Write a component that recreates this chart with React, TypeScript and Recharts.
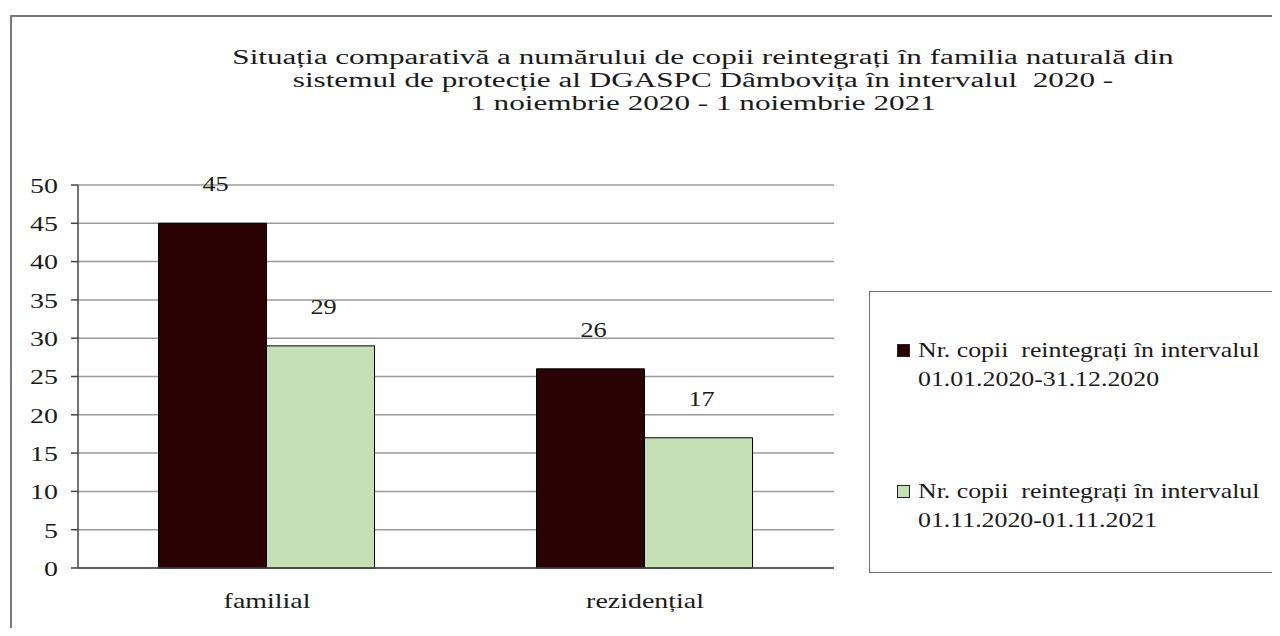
import React from 'react';
import { BarChart, Bar, XAxis, YAxis, CartesianGrid, LabelList } from 'recharts';

const categories = ['familial', 'rezidențial'];
const seriesA = [45, 26];
const seriesB = [29, 17];
const seriesNames = [
  'Nr. copii  reintegrați în intervalul\n01.01.2020-31.12.2020',
  'Nr. copii  reintegrați în intervalul\n01.11.2020-01.11.2021',
];
const seriesColors = ['#2a0204', '#c4e0b4'];
const yTicks = [0, 5, 10, 15, 20, 25, 30, 35, 40, 45, 50];
const titleLines = [
  'Situația comparativă a numărului de copii reintegrați în familia naturală din',
  'sistemul de protecție al DGASPC Dâmbovița în intervalul  2020 -',
  '1 noiembrie 2020 - 1 noiembrie 2021',
];

const data = categories.map((c, i) => ({ category: c, a: seriesA[i], b: seriesB[i] }));

const FONT = "'Liberation Serif', 'Times New Roman', serif";
const SX = 1.27;
const TEXT = '#1a1a1a';

const YTick = (props: any) => {
  const { x, y, payload } = props;
  return (
    <text
      x={0}
      y={0}
      dy="0.355em"
      transform={`translate(${x},${y}) scale(${SX},1)`}
      textAnchor="end"
      fontSize={22}
      fontFamily={FONT}
      fill={TEXT}
    >
      {payload.value}
    </text>
  );
};

const XTick = (props: any) => {
  const { x, y, payload } = props;
  return (
    <text
      x={0}
      y={0}
      dy="0.71em"
      transform={`translate(${x},${y}) scale(${SX},1)`}
      textAnchor="middle"
      fontSize={22}
      fontFamily={FONT}
      fill={TEXT}
    >
      {payload.value}
    </text>
  );
};

const BarValue = (props: any) => {
  const { x, y, width, value } = props;
  return (
    <text
      x={0}
      y={0}
      transform={`translate(${x + width / 2 + 3},${y - 32}) scale(1.25,1)`}
      textAnchor="middle"
      fontSize={21}
      fontFamily={FONT}
      fill={TEXT}
    >
      {value}
    </text>
  );
};

const LegendBox = () => (
  <div
    style={{
      position: 'absolute',
      left: 861,
      top: 283,
      width: 411,
      height: 282,
      boxSizing: 'border-box',
      border: '1px solid #6e6e6e',
      background: '#fff',
      fontFamily: FONT,
      fontSize: 21,
      color: TEXT,
    }}
  >
    {seriesNames.map((name, i) => {
      const lines = name.split('\n');
      return (
        <div key={i} style={{ position: 'absolute', left: 27, top: 44 + i * 141, whiteSpace: 'pre' }}>
          <div
            style={{
              position: 'absolute',
              left: 0,
              top: 8,
              width: 11,
              height: 11,
              background: seriesColors[i],
              border: '1px solid #222',
            }}
          />
          {lines.map((ln, j) => (
            <div
              key={j}
              style={{
                marginLeft: 21,
                lineHeight: '29px',
                height: 29,
                transform: 'scaleX(1.23)',
                transformOrigin: 'left center',
              }}
            >
              {ln}
            </div>
          ))}
        </div>
      );
    })}
  </div>
);

export default function App() {
  return (
    <div style={{ position: 'relative', width: 1272, height: 620, overflow: 'hidden', background: '#fff' }}>
      <div
        style={{
          position: 'absolute',
          left: 2,
          top: 7,
          width: 1320,
          height: 700,
          border: '2px solid #7a7a7a',
          boxSizing: 'border-box',
        }}
      />
      <div
        style={{
          position: 'absolute',
          left: 195,
          top: 38,
          width: 1000,
          textAlign: 'center',
          fontFamily: FONT,
          fontSize: 20.5,
          lineHeight: '23px',
          color: TEXT,
          whiteSpace: 'pre',
          transform: 'scaleX(1.52)',
          transformOrigin: 'center center',
        }}
      >
        {titleLines.map((t, i) => (
          <div key={i}>{t}</div>
        ))}
      </div>
      <div style={{ position: 'absolute', left: 0, top: 0 }}>
        <BarChart
          width={1272}
          height={620}
          data={data}
          margin={{ top: 177, right: 446, bottom: 30, left: 30 }}
          barCategoryGap="21.3%"
          barGap={0}
        >
          <CartesianGrid vertical={false} stroke="#9a9a9a" strokeWidth={1.5} />
          <XAxis
            dataKey="category"
            height={30}
            tickLine={false}
            tickSize={0}
            tickMargin={24}
            axisLine={{ stroke: '#444', strokeWidth: 1.5 }}
            tick={<XTick />}
          />
          <YAxis
            domain={[0, 50]}
            ticks={yTicks}
            width={40}
            tickSize={7}
            tickMargin={13}
            interval={0}
            axisLine={{ stroke: '#444', strokeWidth: 1.5 }}
            tickLine={{ stroke: '#444', strokeWidth: 1.5 }}
            tick={<YTick />}
          />
          <YAxis
            yAxisId="r"
            orientation="right"
            domain={[0, 50]}
            width={0}
            tick={false}
            tickLine={false}
            axisLine={{ stroke: '#9a9a9a', strokeWidth: 1.5 }}
          />
          <Bar dataKey="a" name={seriesNames[0]} fill={seriesColors[0]} stroke="#000" strokeWidth={1} isAnimationActive={false}>
            <LabelList dataKey="a" content={<BarValue />} />
          </Bar>
          <Bar dataKey="b" name={seriesNames[1]} fill={seriesColors[1]} stroke="#000" strokeWidth={1} isAnimationActive={false}>
            <LabelList dataKey="b" content={<BarValue />} />
          </Bar>
        </BarChart>
      </div>
      <LegendBox />
    </div>
  );
}
